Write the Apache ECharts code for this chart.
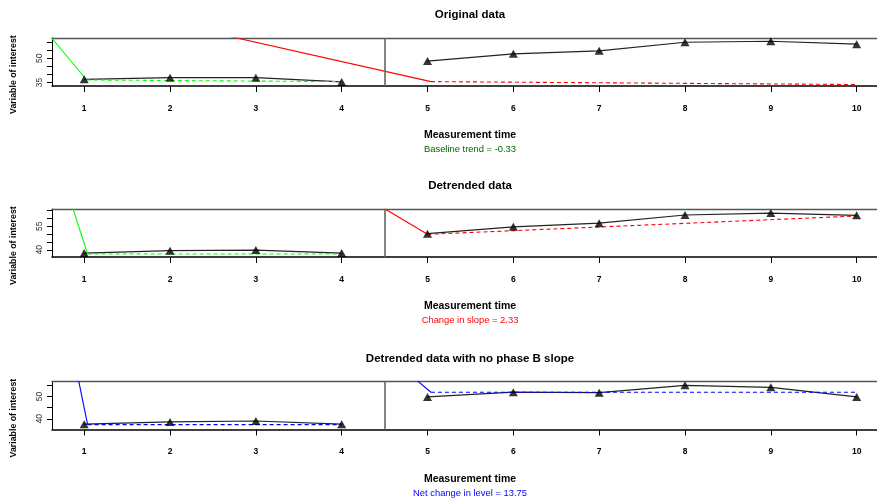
<!DOCTYPE html>
<html>
<head>
<meta charset="utf-8">
<script src="https://cdn.jsdelivr.net/npm/echarts@6/dist/echarts.min.js"></script>
<style>
html,body{margin:0;padding:0;background:#fff;}
#c{width:877px;height:498px;}
</style>
</head>
<body>
<div id="c"></div>
<script>
// ---------- data ----------
const timesA = [1, 2, 3, 4];
const timesB = [5, 6, 7, 8, 9, 10];
const xTicks = [1, 2, 3, 4, 5, 6, 7, 8, 9, 10];

// Panel 1: original data
const origA = [37.0, 38.0, 38.0, 35.4];
const origB = [48.2, 52.7, 54.5, 59.8, 60.4, 58.6];
// Panel 2: detrended data
const detA = [37.9, 39.4, 39.8, 37.9];
const detB = [50.2, 54.6, 56.9, 62.1, 63.3, 61.9];
// Panel 3: detrended data with no phase B slope
const flatA = [37.6, 38.6, 39.0, 37.6];
const flatB = [49.8, 51.9, 51.7, 55.0, 54.1, 49.8];

// trend / guide lines ([time, value] pairs)
const p1SolidA = [[0.60, 63.7], [1.03, 36.6]];
const p1DashA  = [[1.03, 36.6], [4, 35.6]];
const p1SolidB = [[2.5, 65.7], [5.04, 35.6]];
const p1DashB  = [[5.04, 35.6], [10, 33.8]];

const p2SolidA = [[0.85, 69.3], [1.04, 37.3]];
const p2DashA  = [[1.04, 37.3], [4, 37.3]];
const p2SolidB = [[4.5, 66.1], [5.0, 49.8]];
const p2DashB  = [[5.0, 49.8], [10, 61.45]];

const p3SolidA = [[0.9, 63.7], [1.04, 37.4]];
const p3DashA  = [[1.04, 37.4], [4, 37.4]];
const p3SolidB = [[4.8, 59.7], [5.04, 51.9]];
const p3DashB  = [[5.04, 51.9], [10, 51.9]];

// y ranges and tick values
const yMin = [32.9, 35.4, 35.2];
const yMax = [62.4, 65.9, 56.7];
const yTicks = [[35, 40, 45, 50, 55, 60], [40, 45, 50, 55, 60, 65], [40, 45, 50, 55]];
const yLabels = [[35, 50], [40, 55], [40, 50]];

const titles = ['Original data', 'Detrended data', 'Detrended data with no phase B slope'];
const subtitles = ['Baseline trend = -0.33', 'Change in slope = 2.33', 'Net change in level = 13.75'];
const xName = 'Measurement time';
const yName = 'Variable of interest';
const phaseLine = 4.5;

// ---------- layout ----------
const FONT = "'Liberation Sans', Arial, Helvetica, sans-serif";
const gridTops = [38, 209, 381.5];
const gridH = 48;
const subColors = ['#006400', '#ff0000', '#0000ff'];
const lineColors = [['#00ff00', '#ff0000'], ['#00ff00', '#ff0000'], ['#0000ff', '#0000ff']];

const chart = echarts.init(document.getElementById('c'), null, {renderer: 'canvas'});

const grids = [], xAxes = [], yAxes = [], series = [], graphics = [];
const panelData = [[origA, origB], [detA, detB], [flatA, flatB]];
const panelLines = [
  [p1SolidA, p1DashA, p1SolidB, p1DashB],
  [p2SolidA, p2DashA, p2SolidB, p2DashB],
  [p3SolidA, p3DashA, p3SolidB, p3DashB]
];
const X_MIN = 0.625, X_MAX = 10.237;

for (let i = 0; i < 3; i++) {
  grids.push({left: 52, right: 0, top: gridTops[i], height: gridH, show: false});
  // bottom axis
  xAxes.push({type: 'value', gridIndex: i, position: 'bottom', min: X_MIN, max: X_MAX,
    axisLine: {show: true, onZero: false, lineStyle: {color: '#000', width: 1.5}},
    axisTick: {show: true, inside: false, length: 6, customValues: xTicks, lineStyle: {color: '#000', width: 1}},
    axisLabel: {show: true, customValues: xTicks, margin: 18, color: '#000',
      fontFamily: FONT, fontWeight: 'bold', fontSize: 8.5},
    splitLine: {show: false}});
  // top border only
  xAxes.push({type: 'value', gridIndex: i, position: 'top', min: X_MIN, max: X_MAX,
    axisLine: {show: true, onZero: false, lineStyle: {color: '#555', width: 1.3}},
    axisTick: {show: false}, axisLabel: {show: false}, splitLine: {show: false}});
  yAxes.push({type: 'value', gridIndex: i, min: yMin[i], max: yMax[i],
    axisLine: {show: true, onZero: false, lineStyle: {color: '#000', width: 1}},
    axisTick: {show: true, length: 5, customValues: yTicks[i], lineStyle: {color: '#000', width: 1}},
    axisLabel: {show: true, customValues: yLabels[i], rotate: 90, margin: 8, color: '#333',
      fontFamily: FONT, fontSize: 8.5},
    splitLine: {show: false}});

  const xi = 2 * i;
  const [a, b] = panelData[i];
  const ptsA = timesA.map((t, k) => [t, a[k]]);
  const ptsB = timesB.map((t, k) => [t, b[k]]);
  // black data lines
  [ptsA, ptsB].forEach((pts, k) => {
    const s = {type: 'line', xAxisIndex: xi, yAxisIndex: i, data: pts, showSymbol: false,
      lineStyle: {color: '#222', width: 1.2}, clip: true, z: 2, silent: true, animation: false};
    if (k === 0) {
      s.markLine = {silent: true, symbol: ['none', 'none'], animation: false,
        label: {show: false}, lineStyle: {color: '#666', width: 1.6, type: 'solid'},
        data: [{xAxis: phaseLine}]};
    }
    series.push(s);
  });
  // trend lines
  const [sA, dA, sB, dB] = panelLines[i];
  const [cA, cB] = lineColors[i];
  [[sA, cA, 'solid'], [dA, cA, [4, 3]], [sB, cB, 'solid'], [dB, cB, [4, 3]]].forEach(([d, c, t]) => {
    series.push({type: 'line', xAxisIndex: xi, yAxisIndex: i, data: d, showSymbol: false,
      lineStyle: {color: c, width: 1.1, type: t}, clip: true, z: 3, silent: true, animation: false});
  });
  // triangles
  series.push({type: 'scatter', xAxisIndex: xi, yAxisIndex: i, data: ptsA.concat(ptsB),
    symbol: 'triangle', symbolSize: [9, 8], itemStyle: {color: '#000'}, z: 4, silent: true, animation: false});

  const bottom = gridTops[i] + gridH;
  graphics.push({type: 'text', x: 470, y: gridTops[i] - 23, style: {text: titles[i],
    font: 'bold 11.5px ' + FONT, fill: '#000', textAlign: 'center', textVerticalAlign: 'middle'}});
  graphics.push({type: 'text', x: 470, y: bottom + 49.5, style: {text: xName,
    font: 'bold 10.5px ' + FONT, fill: '#000', textAlign: 'center', textVerticalAlign: 'middle'}});
  graphics.push({type: 'text', x: 470, y: bottom + 63.5, style: {text: subtitles[i],
    font: '9.4px ' + FONT, fill: subColors[i], textAlign: 'center', textVerticalAlign: 'middle'}});
  graphics.push({type: 'text', x: 13.5, y: gridTops[i] + gridH / 2 + 12.6, rotation: Math.PI / 2,
    style: {text: yName, font: 'bold 8.8px ' + FONT, fill: '#000', textAlign: 'center', textVerticalAlign: 'middle'}});
}

chart.setOption({
  animation: false,
  backgroundColor: '#fff',
  grid: grids, xAxis: xAxes, yAxis: yAxes, series: series, graphic: graphics
});
</script>
</body>
</html>
